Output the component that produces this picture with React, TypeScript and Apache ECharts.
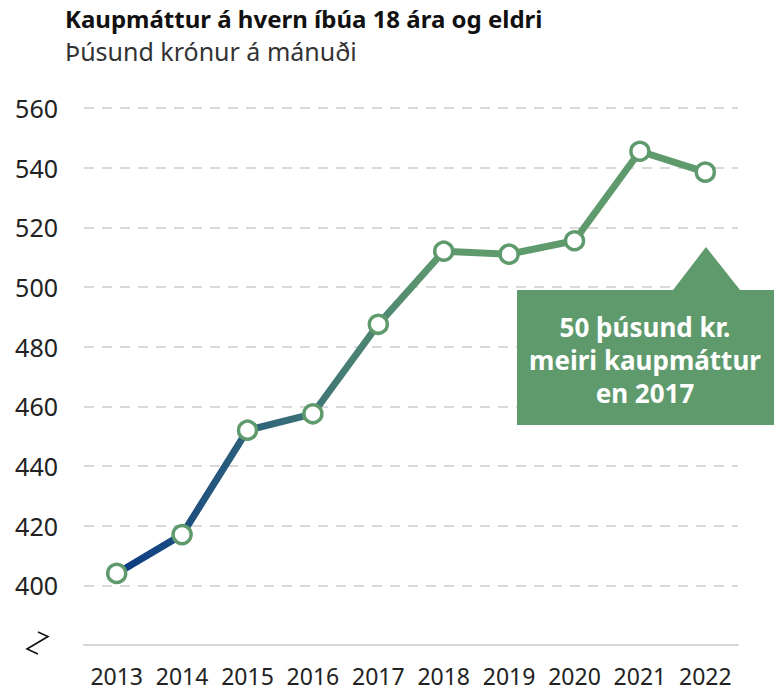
import React, { useEffect, useRef } from "react";
import * as echarts from "echarts";

const years = ["2013", "2014", "2015", "2016", "2017", "2018", "2019", "2020", "2021", "2022"];
const values = [404, 417, 452, 457.5, 487.5, 512, 511, 515.5, 545.5, 538.5];
const yTicks = { min: 380, max: 560, interval: 20 };
const titleText = "Kaupmáttur á hvern íbúa 18 ára og eldri";
const subtitleText = "Þúsund krónur á mánuði";
const noteLines = ["50 þúsund kr.", "meiri kaupmáttur", "en 2017"];

const FONT = "'Noto Sans', 'Open Sans', sans-serif";
const GREEN = "#5f9a6d";
const BLUE = "#0b3a84";

export default function App() {
  const ref = useRef<HTMLDivElement>(null);
  useEffect(() => {
    if (!ref.current) return;
    const chart = echarts.init(ref.current, null, { renderer: "svg" });
    chart.setOption({
      animation: false,
      textStyle: { fontFamily: FONT },
      grid: { left: 84, right: 36, top: 108, bottom: 46, containLabel: false },
      xAxis: {
        type: "category",
        data: years,
        boundaryGap: true,
        axisLine: { lineStyle: { color: "#d6d6d6", width: 2 } },
        axisTick: { show: false },
        axisLabel: { fontSize: 23, color: "#222", margin: 19, fontFamily: FONT, interval: 0 },
      },
      yAxis: {
        type: "value",
        min: yTicks.min,
        max: yTicks.max,
        interval: yTicks.interval,
        axisLine: { show: false },
        axisTick: { show: false },
        axisLabel: {
          fontSize: 25,
          color: "#222",
          margin: 26,
          fontFamily: FONT,
          formatter: (v: number) => (v === yTicks.min ? "" : String(v)),
        },
        splitLine: {
          lineStyle: { color: "#d9d9d9", type: [10, 8], width: 2 },
        },
      },
      series: [
        {
          type: "line",
          data: values,
          symbol: "circle",
          symbolSize: 18,
          lineStyle: {
            width: 7,
            color: new echarts.graphic.LinearGradient(116, 0, 444, 0, [
              { offset: 0, color: BLUE },
              { offset: 1, color: GREEN },
            ], true),
          },
          itemStyle: { color: "#ffffff", borderColor: GREEN, borderWidth: 3.5 },
          z: 5,
        },
      ],
      graphic: [
        {
          type: "text",
          left: 65,
          top: 6,
          style: { text: titleText, font: `bold 24px ${FONT}`, fill: "#111" },
        },
        {
          type: "text",
          left: 65,
          top: 38,
          style: { text: subtitleText, font: `25px ${FONT}`, fill: "#333" },
        },
        {
          type: "polyline",
          shape: { points: [[38, 632], [48, 636.5], [27, 649], [38, 654]] },
          style: { stroke: "#111", lineWidth: 1.6, fill: null },
        },
        {
          type: "polygon",
          shape: {
            points: [
              [517, 290], [673, 290], [706, 247], [740, 290],
              [774, 290], [774, 425], [517, 425],
            ],
          },
          style: { fill: GREEN },
          z: 10,
        },
        ...noteLines.map((t, i) => ({
          type: "text",
          x: 645,
          y: 327 + i * 33,
          z: 11,
          style: {
            text: t,
            font: `bold 26px ${FONT}`,
            fill: "#ffffff",
            align: "center",
            verticalAlign: "middle",
          },
        })),
      ],
    });
    return () => chart.dispose();
  }, []);
  return <div ref={ref} style={{ width: 774, height: 691, position: "absolute", left: 0, top: 0 }} />;
}
